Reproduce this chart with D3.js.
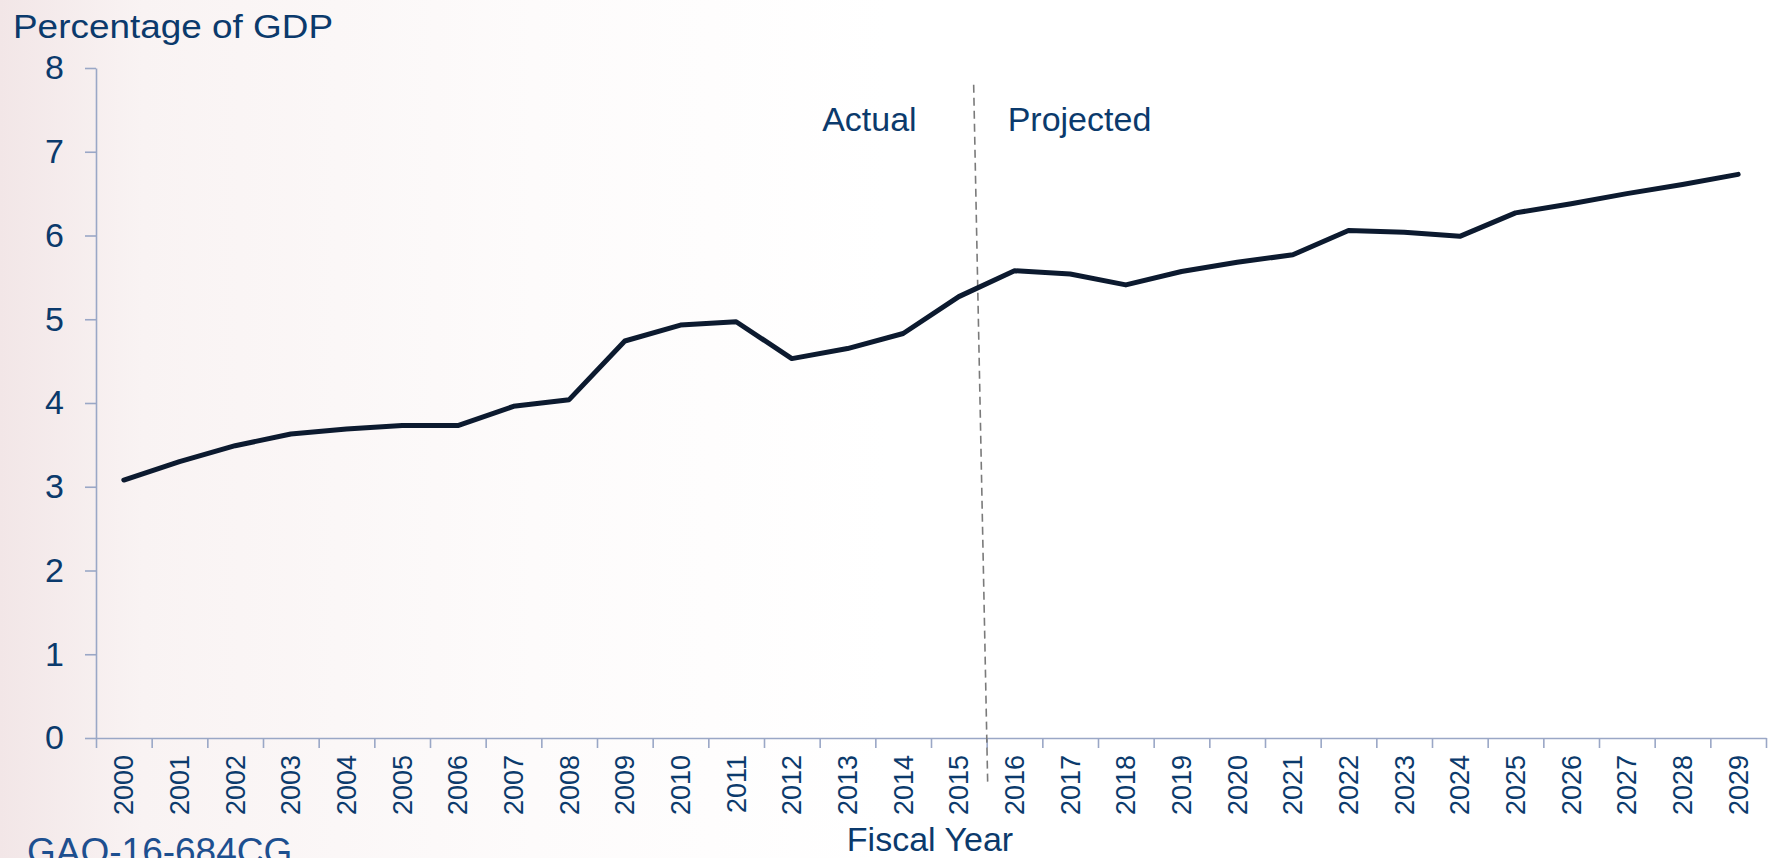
<!DOCTYPE html>
<html>
<head>
<meta charset="utf-8">
<script src="https://cdn.jsdelivr.net/npm/d3@7"></script>
<style>
  body { margin: 0; background: #ffffff; }
  svg { display: block; font-family: "Liberation Sans", Arial, sans-serif; }
  .line { fill: none; stroke: #0c1a2f; stroke-width: 5px; stroke-linejoin: round; stroke-linecap: round; }
  .eje path, .eje line { stroke: #9aa7c6; stroke-width: 1.6px; }
  .eje text { fill: #0b3a6c; }
</style>
</head>
<body>
<svg id="contenedor"></svg>
<script>
// datos del grafico: años fiscales y porcentaje del PIB
let anios = ["2000","2001","2002","2003","2004","2005","2006","2007","2008","2009",
  "2010","2011","2012","2013","2014","2015","2016","2017","2018","2019",
  "2020","2021","2022","2023","2024","2025","2026","2027","2028","2029"];
let valores = [3.08, 3.30, 3.49, 3.63, 3.69, 3.73, 3.73, 3.96, 4.04, 4.74,
  4.93, 4.97, 4.53, 4.65, 4.83, 5.27, 5.58, 5.54, 5.41, 5.57,
  5.68, 5.77, 6.06, 6.04, 5.99, 6.27, 6.38, 6.50, 6.61, 6.73];
let ticksY = [0, 1, 2, 3, 4, 5, 6, 7, 8];
let primerProyectado = "2016";

// textos
let tituloY = "Percentage of GDP";
let tituloX = "Fiscal Year";
let etiquetaReal = "Actual";
let etiquetaProy = "Projected";
let fuente = "GAO-16-684CG";

/* ################################# CONFIGURACION AREA DE DIBUJO ################################# */
function getConfig() {
  let width = 1777;
  let height = 858;
  let margin = { top: 68, bottom: 120, left: 96, right: 11 };
  let bodyHeight = height - margin.top - margin.bottom;
  let bodyWidth = width - margin.left - margin.right;
  let container = d3.select("#contenedor").attr("width", width).attr("height", height);
  return { width, height, margin, bodyHeight, bodyWidth, container };
} // fin getConfig

/* ############################################# ESCALAS ########################################## */
function getScales(config) {
  let { bodyWidth, bodyHeight } = config;
  let xScale = d3.scaleBand().domain(anios).range([0, bodyWidth]);
  let xBordes = d3.scaleLinear().domain([0, anios.length]).range([0, bodyWidth]);
  let yScale = d3.scaleLinear().domain([0, 8]).range([bodyHeight, 0]);
  return { xScale, xBordes, yScale };
} // fin getScales

/* ############################################# FONDO ########################################## */
function dibujarFondo(config) {
  let { container, width, height } = config;
  let grad = container.append("defs").append("linearGradient")
    .attr("id", "fondo").attr("x1", 0).attr("x2", 1).attr("y1", 0).attr("y2", 0);
  grad.append("stop").attr("offset", 0).attr("stop-color", "#f2e6e7");
  grad.append("stop").attr("offset", 0.08).attr("stop-color", "#f9f3f3");
  grad.append("stop").attr("offset", 0.3).attr("stop-color", "#fdfbfb");
  grad.append("stop").attr("offset", 0.5).attr("stop-color", "#ffffff");
  container.append("rect").attr("width", width).attr("height", height).attr("fill", "url(#fondo)");
} // fin dibujarFondo

/* ############################################# EJES ########################################## */
function dibujarEjes(scales, config) {
  let { xScale, xBordes, yScale } = scales;
  let { container, margin, bodyHeight } = config;

  // eje y
  container.append("g")
    .attr("class", "eje")
    .attr("transform", `translate(${margin.left},${margin.top})`)
    .call(d3.axisLeft(yScale).tickValues(ticksY).tickFormat(d3.format("d"))
      .tickSize(11).tickSizeOuter(0).tickPadding(21))
    .call(g => g.selectAll("text").style("font-size", "34px"));

  // eje x: marcas en los bordes de cada año
  container.append("g")
    .attr("class", "eje")
    .attr("transform", `translate(${margin.left},${margin.top + bodyHeight})`)
    .call(d3.axisBottom(xBordes).tickValues(d3.range(anios.length + 1))
      .tickFormat("").tickSize(10).tickSizeOuter(0));

  // etiquetas de años rotadas
  container.append("g")
    .attr("class", "eje")
    .attr("transform", `translate(${margin.left},${margin.top + bodyHeight})`)
    .call(d3.axisBottom(xScale).tickSize(0))
    .call(g => g.select(".domain").remove())
    .call(g => g.selectAll("text")
      .attr("y", 0)
      .attr("x", -17)
      .attr("dy", "0.35em")
      .attr("transform", "rotate(-90)")
      .style("text-anchor", "end")
      .style("font-size", "27px"));
} // fin dibujarEjes

/* ############################################# LINEA ########################################## */
function dibujarLinea(scales, config) {
  let { xScale, yScale } = scales;
  let { container, margin } = config;
  let body = container.append("g").attr("transform", `translate(${margin.left},${margin.top})`);

  let datos = anios.map((a, i) => ({ anio: a, valor: valores[i] }));

  let line = d3.line()
    .x(d => xScale(d.anio) + xScale.bandwidth() / 2)
    .y(d => yScale(d.valor));

  body.append("path").datum(datos).attr("class", "line").attr("d", line);
} // fin dibujarLinea

/* ############################################# ANOTACIONES ########################################## */
function dibujarAnotaciones(scales, config) {
  let { xScale, yScale } = scales;
  let { container, margin } = config;
  let body = container.append("g").attr("transform", `translate(${margin.left},${margin.top})`);

  let borde = xScale(primerProyectado);

  // linea divisoria punteada (un poco inclinada como en el original)
  body.append("line")
    .attr("x1", borde - 13).attr("y1", yScale(7.8))
    .attr("x2", borde + 1).attr("y2", yScale(-0.53))
    .attr("stroke", "#7a7a7a").attr("stroke-width", 1.6)
    .attr("stroke-dasharray", "8,5");

  body.append("text")
    .attr("x", borde - 70).attr("y", yScale(7.25))
    .attr("text-anchor", "end")
    .attr("fill", "#0b3a6c").style("font-size", "34px")
    .text(etiquetaReal);

  body.append("text")
    .attr("x", borde + 21).attr("y", yScale(7.25))
    .attr("fill", "#0b3a6c").style("font-size", "34px")
    .text(etiquetaProy);
} // fin dibujarAnotaciones

/* ############################################# TITULOS ########################################## */
function dibujarTitulos(config) {
  let { container } = config;

  container.append("text")
    .attr("x", 13).attr("y", 38)
    .attr("fill", "#0b3a6c").style("font-size", "34px")
    .attr("textLength", 320).attr("lengthAdjust", "spacingAndGlyphs")
    .text(tituloY);

  container.append("text")
    .attr("x", 930).attr("y", 851)
    .attr("text-anchor", "middle")
    .attr("fill", "#0b3a6c").style("font-size", "34px")
    .text(tituloX);

  container.append("text")
    .attr("x", 27).attr("y", 864)
    .attr("fill", "#1d4f8f").style("font-size", "37px")
    .text(fuente);
} // fin dibujarTitulos

/* ############################################# DIBUJAR ########################################## */
function dibujarChart() {
  let config = getConfig();
  let scales = getScales(config);
  dibujarFondo(config);
  dibujarEjes(scales, config);
  dibujarAnotaciones(scales, config);
  dibujarLinea(scales, config);
  dibujarTitulos(config);
} // fin dibujarChart

dibujarChart();
</script>
</body>
</html>
